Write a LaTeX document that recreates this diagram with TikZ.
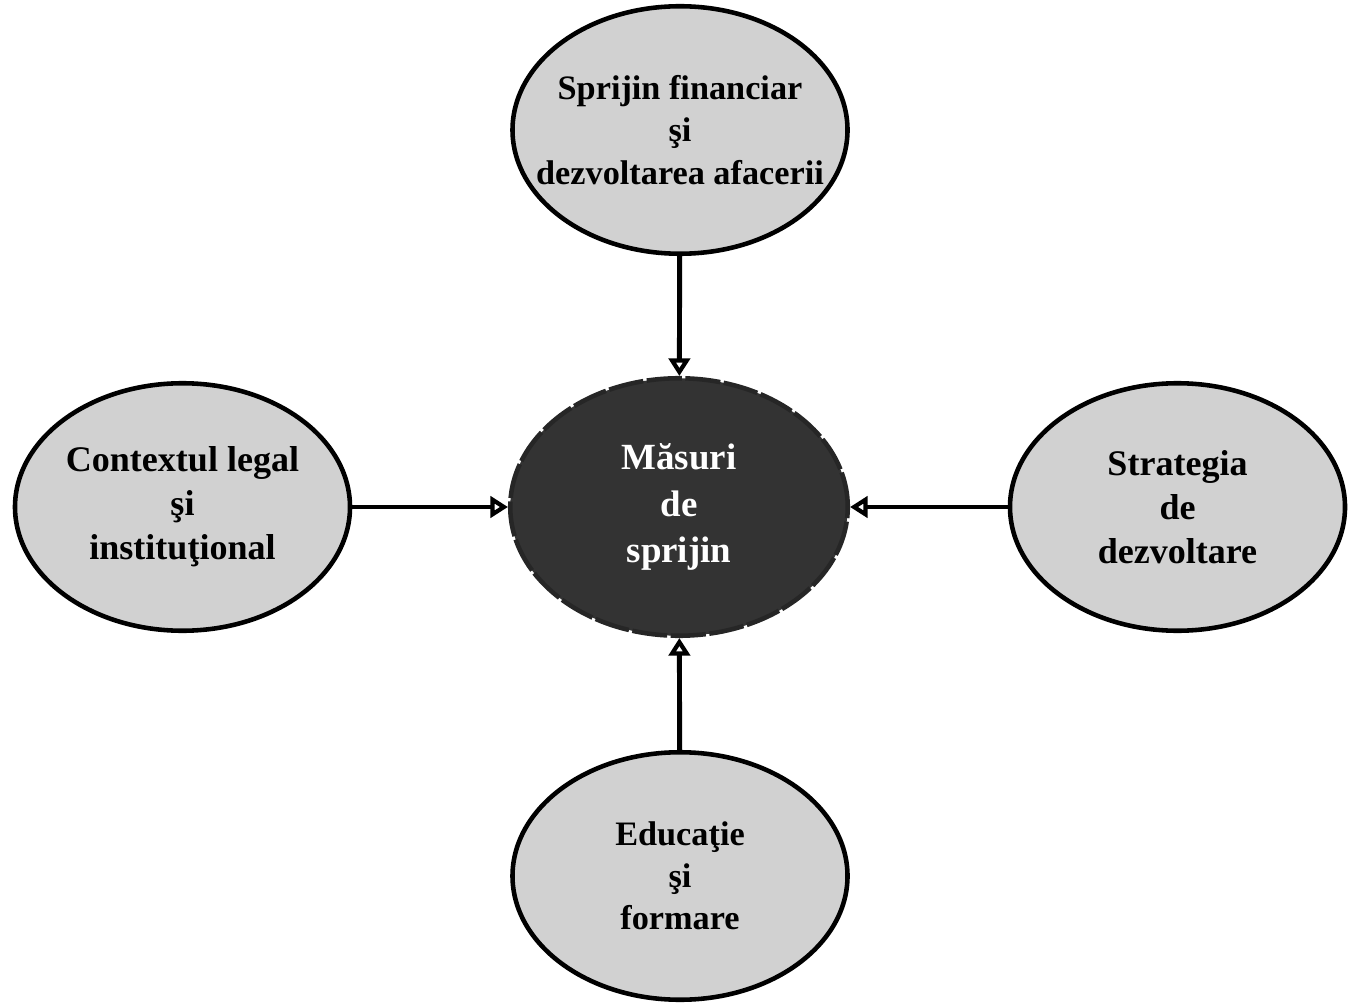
\documentclass[tikz,border=0pt]{standalone}
\usepackage{fontspec}
\setmainfont{Liberation Serif}
\usetikzlibrary{arrows.meta,shapes.geometric}
\begin{document}
\begin{tikzpicture}
    % Define the styles for the ellipses and arrows
    \tikzstyle{factor}=[ellipse, draw=black, line width=2.6pt, fill=black!18, text centered, minimum width=6.7cm, minimum height=4.95cm, inner xsep=-0.65cm, inner ysep=0pt, font=\fontsize{19.5}{24}\selectfont\bfseries, align=center]
    \tikzstyle{core}=[ellipse, draw=black!85, line width=2.6pt, dash pattern=on 20pt off 2pt, fill=black!80, text=white, minimum width=6.75cm, minimum height=5.15cm, inner sep=0pt, font=\fontsize{21}{26.5}\selectfont\bfseries, align=center]
    \tikzstyle{arrow}=[line width=2.8pt, -{Triangle[open, length=10pt, width=12pt, line width=2.4pt]}]

    \useasboundingbox (0, 0) rectangle (27.14, 20.08);

    % Draw the ellipses
    \node[core] (masuri) at (13.58, 9.94) {Măsuri\\de\\sprijin};
    \node[factor] (sprijin) at (13.6, 17.48) {Sprijin financiar\\şi\\dezvoltarea afacerii};
    \node[factor, font=\fontsize{20.5}{25}\selectfont\bfseries] (context) at (3.65, 9.94) {Contextul legal\\şi\\instituţional};
    \node[factor, font=\fontsize{20.5}{25}\selectfont\bfseries] (strategia) at (23.55, 9.94) {Strategia\\de\\dezvoltare};
    \node[factor] (educatie) at (13.6, 2.56) {Educaţie\\şi\\formare};

    % Draw the arrows towards the centre
    \draw[arrow] (sprijin) -- (masuri);
    \draw[arrow] (context) -- (masuri);
    \draw[arrow] (strategia) -- (masuri);
    \draw[arrow] (educatie) -- (masuri);
\end{tikzpicture}
\end{document}
